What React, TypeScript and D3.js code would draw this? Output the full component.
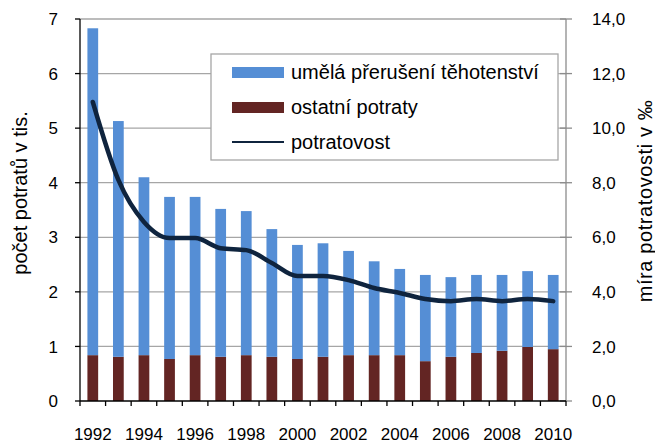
import React, { useRef, useEffect } from 'react';
import * as d3 from 'd3';

const years = [1992, 1993, 1994, 1995, 1996, 1997, 1998, 1999, 2000, 2001, 2002, 2003, 2004, 2005, 2006, 2007, 2008, 2009, 2010];
// ostatní potraty (tis.)
const ostatni = [0.84, 0.81, 0.84, 0.77, 0.84, 0.81, 0.84, 0.81, 0.77, 0.81, 0.84, 0.84, 0.84, 0.73, 0.81, 0.88, 0.92, 0.99, 0.95];
// umělá přerušení těhotenství (tis.)
const umela = [5.99, 4.32, 3.26, 2.97, 2.9, 2.71, 2.64, 2.34, 2.09, 2.08, 1.91, 1.72, 1.58, 1.58, 1.46, 1.43, 1.39, 1.39, 1.36];
// potratovost (‰)
const potratovost = [10.96, 8.1, 6.56, 5.97, 5.97, 5.6, 5.53, 5.06, 4.58, 4.58, 4.43, 4.14, 3.96, 3.74, 3.66, 3.74, 3.66, 3.74, 3.66];
const leftTicks = [0, 1, 2, 3, 4, 5, 6, 7];
const rightTicks = [0, 2, 4, 6, 8, 10, 12, 14];
const xLabels = [1992, 1994, 1996, 1998, 2000, 2002, 2004, 2006, 2008, 2010];

const BLUE = '#558ed5';
const RED = '#632523';
const NAVY = '#0f243e';
const FONT = 'Liberation Sans, Arial, sans-serif';

const App = () => {
  const ref = useRef<SVGSVGElement | null>(null);

  useEffect(() => {
    if (!ref.current) return;
    const svg = d3.select(ref.current);
    svg.selectAll('*').remove();

    const left = 80, right = 566, top = 19, bottom = 401;

    const x = d3.scaleBand<number>().domain(years).range([left, right]).paddingInner(0.58).paddingOuter(0.29);
    const yL = d3.scaleLinear().domain([0, 7]).range([bottom, top]);
    const yR = d3.scaleLinear().domain([0, 14]).range([bottom, top]);

    // mřížka
    svg.append('g').selectAll('line').data(leftTicks.slice(1)).enter().append('line')
      .attr('x1', left).attr('x2', right)
      .attr('y1', d => yL(d)).attr('y2', d => yL(d))
      .attr('stroke', '#a6a6a6').attr('stroke-width', 1.3);

    // sloupce
    const g = svg.append('g');
    years.forEach((yr, i) => {
      g.append('rect').attr('x', x(yr)!).attr('width', x.bandwidth())
        .attr('y', yL(ostatni[i])).attr('height', yL(0) - yL(ostatni[i])).attr('fill', RED);
      g.append('rect').attr('x', x(yr)!).attr('width', x.bandwidth())
        .attr('y', yL(ostatni[i] + umela[i])).attr('height', yL(0) - yL(umela[i])).attr('fill', BLUE);
    });

    // čára
    const line = d3.line<number>()
      .x((_, i) => x(years[i])! + x.bandwidth() / 2)
      .y(d => yR(d))
      .curve(d3.curveMonotoneX);
    svg.append('path').datum(potratovost).attr('d', line)
      .attr('fill', 'none').attr('stroke', NAVY).attr('stroke-width', 4.5)
      .attr('stroke-linejoin', 'round').attr('stroke-linecap', 'round');

    // levá osa
    svg.append('line').attr('x1', left).attr('x2', left).attr('y1', top).attr('y2', bottom)
      .attr('stroke', '#000').attr('stroke-width', 1.3);
    leftTicks.forEach(t => {
      svg.append('line').attr('x1', left - 5).attr('x2', left).attr('y1', yL(t)).attr('y2', yL(t))
        .attr('stroke', '#000').attr('stroke-width', 1.3);
      svg.append('text').attr('x', 58).attr('y', yL(t)).attr('dy', '0.36em')
        .attr('text-anchor', 'end').attr('font-family', FONT).attr('font-size', 17).text(String(t));
    });

    // pravá osa
    svg.append('line').attr('x1', right).attr('x2', right).attr('y1', top).attr('y2', bottom)
      .attr('stroke', '#8c8c8c').attr('stroke-width', 1.3);
    rightTicks.forEach(t => {
      svg.append('line').attr('x1', right - 6).attr('x2', right + 6).attr('y1', yR(t)).attr('y2', yR(t))
        .attr('stroke', '#8c8c8c').attr('stroke-width', 1.3);
      svg.append('text').attr('x', 592).attr('y', yR(t)).attr('dy', '0.36em')
        .attr('font-family', FONT).attr('font-size', 17).text(d3.format('.1f')(t).replace('.', ','));
    });

    // dolní osa
    svg.append('line').attr('x1', left).attr('x2', right).attr('y1', bottom).attr('y2', bottom)
      .attr('stroke', '#000').attr('stroke-width', 1.3);
    const step = x.step();
    d3.range(years.length + 1).forEach(i => {
      const xx = left + i * step;
      svg.append('line').attr('x1', xx).attr('x2', xx).attr('y1', bottom).attr('y2', bottom + 5)
        .attr('stroke', '#000').attr('stroke-width', 1.3);
    });
    xLabels.forEach(yr => {
      svg.append('text').attr('x', x(yr)! + x.bandwidth() / 2).attr('y', 440)
        .attr('text-anchor', 'middle').attr('font-family', FONT).attr('font-size', 17).text(String(yr));
    });

    // názvy os
    svg.append('text').attr('transform', 'translate(27,193) rotate(-90)')
      .attr('text-anchor', 'middle').attr('font-family', FONT).attr('font-size', 20)
      .text('počet potratů v tis.');
    svg.append('text').attr('transform', 'translate(652,201) rotate(-90)')
      .attr('text-anchor', 'middle').attr('font-family', FONT).attr('font-size', 20)
      .attr('letter-spacing', 0.6)
      .text('míra potratovosti v ‰');

    // legenda
    const lg = svg.append('g');
    lg.append('rect').attr('x', 211).attr('y', 54).attr('width', 347).attr('height', 106)
      .attr('fill', '#fff').attr('stroke', '#a6a6a6').attr('stroke-width', 1.3);
    const items = [
      { label: 'umělá přerušení těhotenství', type: 'bar', color: BLUE },
      { label: 'ostatní potraty', type: 'bar', color: RED },
      { label: 'potratovost', type: 'line', color: NAVY },
    ];
    items.forEach((it, i) => {
      const cy = 72 + i * 35;
      if (it.type === 'bar') {
        lg.append('rect').attr('x', 232).attr('y', cy - 5).attr('width', 52).attr('height', 11).attr('fill', it.color);
      } else {
        lg.append('line').attr('x1', 232).attr('x2', 284).attr('y1', cy).attr('y2', cy)
          .attr('stroke', it.color).attr('stroke-width', 2);
      }
      lg.append('text').attr('x', 291).attr('y', cy).attr('dy', '0.36em')
        .attr('font-family', FONT).attr('font-size', 20).text(it.label);
    });
  }, []);

  return <svg ref={ref} width={655} height={445} style={{ position: 'absolute', left: 0, top: 0 }} />;
};

export default App;
